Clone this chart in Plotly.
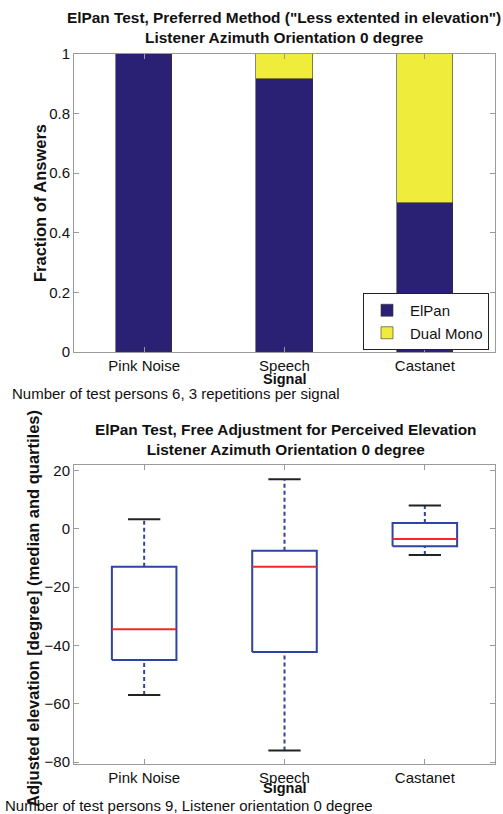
import plotly.graph_objects as go

# ---- data ----
signals = ["Pink Noise", "Speech", "Castanet"]
sig_pos = [1, 2, 3]
elpan_frac = [1.0, 0.9167, 0.5]
dualmono_frac = [0.0, 0.0833, 0.5]

box_upper = [3.3, 17.0, 8.0]
box_q3 = [-13.0, -7.5, 2.0]
box_median = [-34.5, -13.0, -3.5]
box_q1 = [-45.0, -42.3, -6.0]
box_lower = [-57.0, -76.0, -9.0]

top_yticks = [0, 0.2, 0.4, 0.6, 0.8, 1]
bot_yticks = [-80, -60, -40, -20, 0, 20]

FONT = "Liberation Sans, Arial, sans-serif"
NAVY = "#2b2174"
YELLOW = "#f0ec3c"
BOXBLUE = "#2f44a0"
RED = "#ee2a2a"

fig = go.Figure()

# ---- top: stacked bars ----
fig.add_trace(go.Bar(x=sig_pos, y=elpan_frac, name="ElPan", width=0.4,
                     marker=dict(color=NAVY, line=dict(color="#333333", width=0.6)),
                     xaxis="x", yaxis="y"))
fig.add_trace(go.Bar(x=sig_pos, y=dualmono_frac, name="Dual Mono", width=0.4,
                     marker=dict(color=YELLOW, line=dict(color="#333333", width=0.6)),
                     xaxis="x", yaxis="y"))

# ---- bottom: box plots built from the statistics ----
bw = 0.23   # box half width
cw = 0.115  # cap half width
bx, by, wx, wy, cx, cy, mx, my = [], [], [], [], [], [], [], []
for i, p in enumerate(sig_pos):
    bx += [p - bw, p + bw, p + bw, p - bw, p - bw, None]
    by += [box_q1[i], box_q1[i], box_q3[i], box_q3[i], box_q1[i], None]
    wx += [p, p, None, p, p, None]
    wy += [box_q3[i], box_upper[i], None, box_lower[i], box_q1[i], None]
    cx += [p - cw, p + cw, None, p - cw, p + cw, None]
    cy += [box_upper[i], box_upper[i], None, box_lower[i], box_lower[i], None]
    mx += [p - bw, p + bw, None]
    my += [box_median[i], box_median[i], None]

fig.add_trace(go.Scatter(x=wx, y=wy, mode="lines", showlegend=False,
                         line=dict(color=BOXBLUE, width=2, dash="4px,3px"),
                         xaxis="x2", yaxis="y2", hoverinfo="skip"))
fig.add_trace(go.Scatter(x=cx, y=cy, mode="lines", showlegend=False,
                         line=dict(color="#222222", width=2),
                         xaxis="x2", yaxis="y2", hoverinfo="skip"))
fig.add_trace(go.Scatter(x=bx, y=by, mode="lines", showlegend=False,
                         line=dict(color=BOXBLUE, width=2),
                         xaxis="x2", yaxis="y2", hoverinfo="skip"))
fig.add_trace(go.Scatter(x=mx, y=my, mode="lines", showlegend=False,
                         line=dict(color=RED, width=2),
                         xaxis="x2", yaxis="y2", hoverinfo="skip"))

W, H = 503, 814
xdom = [74 / W, 495 / W]
ytop = [(H - 352) / H, (H - 54) / H]
ybot = [(H - 764) / H, (H - 465) / H]

FS = 15
axis_common = dict(showline=True, linecolor="#9a9a9a", linewidth=1, mirror="ticks",
                   ticks="inside", ticklen=5, tickcolor="#9a9a9a", zeroline=False,
                   showgrid=False, automargin=False,
                   tickfont=dict(family=FONT, size=FS, color="#111111"))


def ann(text, x, y, size=FS, xanchor="center", angle=0):
    return dict(text=text, x=x / W, y=(H - y) / H, xref="paper", yref="paper",
                xanchor=xanchor, yanchor="middle", showarrow=False, textangle=angle,
                font=dict(size=size), align="center")


fig.update_layout(
    width=W, height=H,
    margin=dict(l=0, r=0, t=0, b=0),
    paper_bgcolor="white", plot_bgcolor="white",
    barmode="stack", bargap=0,
    font=dict(family=FONT, size=FS, color="#111111"),
    xaxis=dict(domain=xdom, anchor="y", range=[0.5, 3.5], tickvals=sig_pos, ticktext=signals,
               **axis_common),
    yaxis=dict(domain=ytop, anchor="x", range=[0, 1], tickvals=top_yticks,
               ticktext=[f"{v:g}" for v in top_yticks], **axis_common),
    xaxis2=dict(domain=xdom, anchor="y2", range=[0.5, 3.5], tickvals=sig_pos, ticktext=signals,
                **axis_common),
    yaxis2=dict(domain=ybot, anchor="x2", range=[-80.66, 21.86], tickvals=bot_yticks,
                **axis_common),
    legend=dict(x=363 / W, xanchor="left", y=(H - 350) / H, yanchor="bottom",
                bgcolor="white", bordercolor="#222222", borderwidth=1,
                font=dict(family=FONT, size=15), tracegroupgap=0,
                traceorder="normal", itemwidth=36),
    annotations=[
        ann("<b>ElPan Test, Preferred Method (\"Less extented in elevation\")</b><br>"
            "<b>Listener Azimuth Orientation 0 degree</b>", 284, 27, size=15.4),
        ann("<b>Fraction of Answers</b>", 40, 203, size=16.5, angle=-90),
        ann("<b>Signal</b>", 285, 379, size=14.5),
        ann("Number of test persons 6, 3 repetitions per signal", 10, 393, xanchor="left"),
        ann("<b>ElPan Test, Free Adjustment for Perceived Elevation</b><br>"
            "<b>Listener Azimuth Orientation 0 degree</b>", 285, 439, size=15.4),
        ann("<b>Adjusted elevation [degree] (median and quartiles)</b>", 33, 609,
            size=16.5, angle=-90),
        ann("<b>Signal</b>", 285, 788, size=14.5),
        ann("Number of test persons 9, Listener orientation 0 degree", 3, 805, xanchor="left"),
    ],
)

fig.write_html("out.html", config={"displayModeBar": False},
               post_script="document.body.style.margin='0px';")
